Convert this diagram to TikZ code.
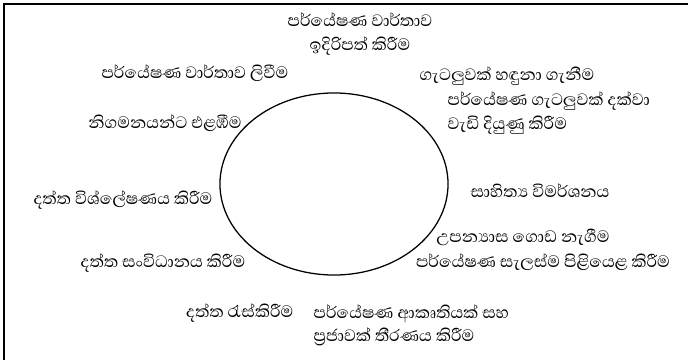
\documentclass[tikz,border=0pt]{standalone}
\usepackage{fontspec}
\newfontfamily\sinhala[Script=Sinhala]{Abhaya Libre}
\usetikzlibrary{
  positioning,
  shapes.geometric
}

\begin{document}
\begin{tikzpicture}[
      x=0.025cm, y=-0.025cm,
      fase/.style={inner sep=1pt, align=center,
                   font=\sinhala\fontsize{15}{16.5}\selectfont},
      fasee/.style={fase, anchor=west, align=left},
      ciclo/.style={draw, ellipse, line width=0.9pt,
                    minimum width=5.7cm, minimum height=4.55cm}
  ]
      \useasboundingbox (0,0) rectangle (688,360);

      % --- MOLDURA ---
      \draw[line width=1.4pt] (4,362) -- (4,4) -- (690,4);

      % --- CICLO ---
      \node[ciclo] (ciclo) at (334,184) {};

      % --- ETAPAS ---
      \node[fase]  (ap)  at (360,34)  {පර්යේෂණ වාර්තාව\\ඉදිරිපත් කිරීම};
      \node[fase]  (li)  at (195,73)  {පර්යේෂණ වාර්තාව ලිවීම};
      \node[fase]  (ge)  at (507,76)  {ගැටලුවක් හඳුනා ගැනීම};
      \node[fasee] (de)  at (446,113) {පර්යේෂණ ගැටලුවක් දක්වා\\වැඩි දියුණු කිරීම};
      \node[fase]  (ni)  at (165,123) {නිගමනයන්ට එළඹීම};
      \node[fase]  (sa)  at (540,191) {සාහිත්‍ය විමර්ශනය};
      \node[fase]  (vi)  at (123,200) {දත්ත විශ්ලේෂණය කිරීම};
      \node[fase]  (up)  at (523,237) {උපන්‍යාස ගොඩ නැගීම};
      \node[fase]  (pl)  at (543,262) {පර්යේෂණ සැලස්ම පිළියෙළ කිරීම};
      \node[fase]  (so)  at (163,263) {දත්ත සංවිධානය කිරීම};
      \node[fasee] (ak)  at (312,325) {පර්යේෂණ ආකෘතියක් සහ\\ප්‍රජාවක් තීරණය කිරීම};
      \node[fase, anchor=east] (ra) at (295,313) {දත්ත රැස්කිරීම};

  \end{tikzpicture}
\end{document}
